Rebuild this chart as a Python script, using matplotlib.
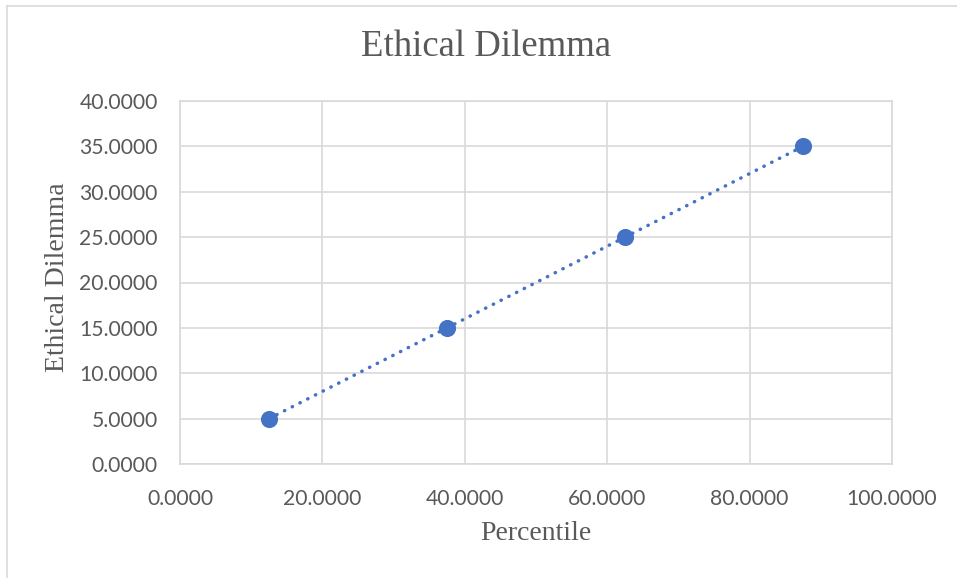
import numpy as np
import matplotlib.pyplot as plt
from matplotlib.lines import Line2D
from matplotlib.ticker import FormatStrFormatter

# data
percentile = [12.5, 37.5, 62.5, 87.5]
dilemma = [5.0, 15.0, 25.0, 35.0]
x_ticks = [0, 20, 40, 60, 80, 100]
y_ticks = [0, 5, 10, 15, 20, 25, 30, 35, 40]

blue = '#4472C4'
grid_col = '#D9D9D9'
text_col = '#595959'
tick_font = 'Lato'
serif_font = 'Liberation Serif'

fig = plt.figure(figsize=(9.57, 5.78), dpi=100)
ax = fig.add_axes([180/957, 1 - 464/578, (892 - 180)/957, (464 - 101)/578])

# linear trendline over the data range
k, b = np.polyfit(percentile, dilemma, 1)
tx = np.array([min(percentile), max(percentile)])
ax.plot(tx, k*tx + b, color=blue, linewidth=2.5,
        linestyle=(0, (0.1, 2.4)), dash_capstyle='round', zorder=3)
ax.plot(percentile, dilemma, 'o', color=blue, markersize=11.3, zorder=4)

ax.set_xlim(0, 100)
ax.set_ylim(0, 40)
ax.set_xticks(x_ticks)
ax.set_yticks(y_ticks)
ax.xaxis.set_major_formatter(FormatStrFormatter('%.4f'))
ax.yaxis.set_major_formatter(FormatStrFormatter('%.4f'))
ax.grid(True, color=grid_col, linewidth=1.2)
ax.set_axisbelow(True)
for s in ax.spines.values():
    s.set_color(grid_col)
    s.set_linewidth(1.2)
ax.tick_params(length=0, labelsize=15.2, labelcolor=text_col)
ax.tick_params(axis='y', pad=16)
ax.tick_params(axis='x', pad=18)
for lab in ax.get_xticklabels() + ax.get_yticklabels():
    lab.set_fontfamily(tick_font)

fig.text(536/957, 1 - 534/578, 'Percentile', fontfamily=serif_font, fontsize=20,
         color=text_col, ha='center', va='center')
fig.text(58/957, 1 - 277/578, 'Ethical Dilemma', fontfamily=serif_font, fontsize=20,
         color=text_col, ha='center', va='center', rotation=90)
fig.text(486/957, 1 - 47/578, 'Ethical Dilemma', fontfamily=serif_font, fontsize=26.5,
         color=text_col, ha='center', va='center')

# chart frame
fig.add_artist(Line2D([6.5/957, 6.5/957], [0, 1 - 5.5/578], color=grid_col, linewidth=1.2))
fig.add_artist(Line2D([6.5/957, 1], [1 - 5.5/578, 1 - 5.5/578], color=grid_col, linewidth=1.2))

fig.savefig('out.png', dpi=100)
